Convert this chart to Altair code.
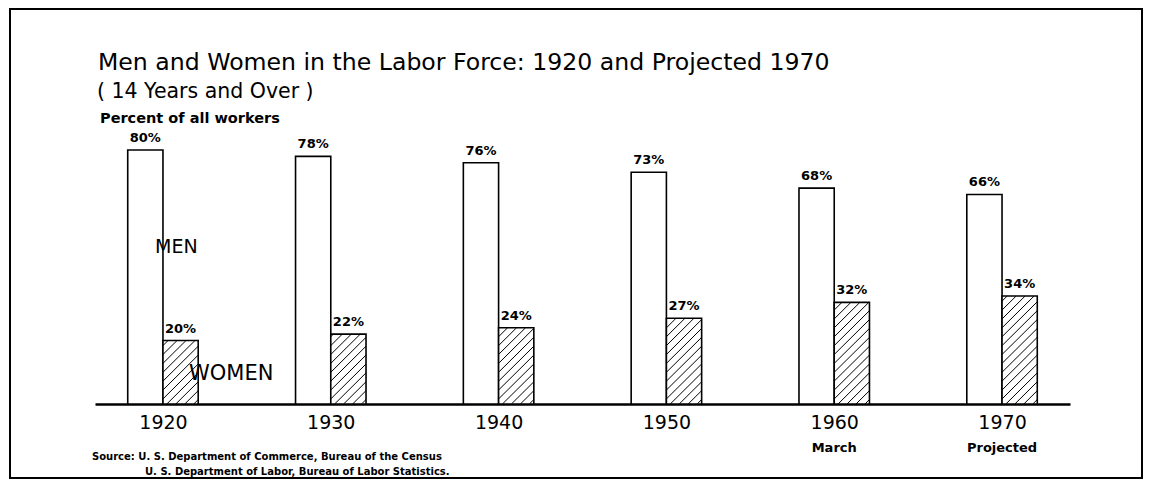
import altair as alt
import pandas as pd

# ---- data ----
years = ["1920", "1930", "1940", "1950", "1960", "1970"]
sublabels = ["", "", "", "", "March", "Projected"]
men = [80, 78, 76, 73, 68, 66]
women = [20, 22, 24, 27, 32, 34]

title = "Men and Women in the Labor Force: 1920 and Projected 1970"
subtitle = "( 14 Years and Over )"
ylabel = "Percent of all workers"
source1 = "Source: U. S. Department of Commerce, Bureau of the Census"
source2 = "U. S. Department of Labor, Bureau of Labor Statistics."

FONT = "DejaVu Sans"
BW = 0.21       # bar width in group units
H = 11.0        # hatch rise across a bar (y units)
S = 2.8         # hatch spacing (y units)

rows = []
for i, y in enumerate(years):
    rows.append({"year": y, "idx": i, "sex": "Men", "value": men[i]})
    rows.append({"year": y, "idx": i, "sex": "Women", "value": women[i]})
df = pd.DataFrame(rows)

W, HT = 975, 254
xs = alt.Scale(domain=[-0.405, 5.405], nice=False, zero=False)
ys = alt.Scale(domain=[0, 80], nice=False)

base = alt.Chart(df).transform_calculate(
    x0=f"datum.sex == 'Men' ? datum.idx - {BW} : datum.idx",
).transform_calculate(
    x1=f"datum.x0 + {BW}", xc=f"datum.x0 + {BW}/2",
    label="datum.value + '%'",
)

label_expr = "[" + ",".join(f"'{y}'" for y in years) + "][datum.value]"

bars = base.mark_rect(fill="white", stroke="black", strokeWidth=1.6).encode(
    x=alt.X("x0:Q", scale=xs, axis=alt.Axis(
        values=list(range(len(years))), labelExpr=label_expr, ticks=False,
        grid=False, domainColor="black", domainWidth=2.5, labelFont=FONT,
        labelFontSize=19, labelColor="black", labelPadding=9,
        labelFlush=False, labelOverlap=False, title=None)),
    x2="x1:Q",
    y=alt.Y("value:Q", scale=ys, axis=None),
    y2=alt.datum(0),
)

hatch = base.transform_filter("datum.sex == 'Women'").transform_calculate(
    cs=f"sequence(-{H} + {S}/2, datum.value, {S})"
).transform_flatten(["cs"]).transform_calculate(
    t0=f"max(0, -datum.cs / {H})",
    t1=f"min(1, (datum.value - datum.cs) / {H})",
).transform_filter("datum.t1 > datum.t0").transform_calculate(
    hx=f"datum.x0 + datum.t0 * {BW}",
    hy=f"datum.cs + datum.t0 * {H}",
    hx2=f"datum.x0 + datum.t1 * {BW}",
    hy2=f"datum.cs + datum.t1 * {H}",
).mark_rule(color="black", strokeWidth=1).encode(
    x=alt.X("hx:Q", scale=xs), x2="hx2:Q",
    y=alt.Y("hy:Q", scale=ys), y2="hy2:Q",
)

vals = base.mark_text(font=FONT, fontSize=13, fontWeight="bold",
                      baseline="bottom", dy=-5, color="black").encode(
    x=alt.X("xc:Q", scale=xs), y=alt.Y("value:Q", scale=ys), text="label:N")

subdf = pd.DataFrame({"idx": list(range(len(years))), "sub": sublabels})
subs = alt.Chart(subdf).mark_text(font=FONT, fontSize=13, fontWeight="bold",
                                  baseline="middle", color="black").encode(
    x=alt.X("idx:Q", scale=xs), y=alt.value(298), text="sub:N")


def label(txt, x, y, size, weight="normal", baseline="alphabetic"):
    return alt.Chart(pd.DataFrame({"t": [txt]})).mark_text(
        font=FONT, fontSize=size, fontWeight=weight, align="left",
        baseline=baseline, color="black").encode(
        x=alt.value(x), y=alt.value(y), text="t:N")


texts = [
    label(title, 3, -80, 23.6),
    label(subtitle, 2, -52, 20.5),
    label(ylabel, 5, -27, 14.5, "bold"),
    label("MEN", 60, 103, 19),
    label("WOMEN", 94, 230, 21),
    label(source1, -3, 307, 10, "bold", "middle"),
    label(source2, 50, 322, 10, "bold", "middle"),
]

frame = alt.Chart(pd.DataFrame({"a": [0]})).mark_rect(
    fill=None, stroke="black", strokeWidth=2).encode(
    x=alt.value(-85), x2=alt.value(1047), y=alt.value(-141), y2=alt.value(328))

chart = alt.layer(frame, bars, hatch, vals, subs, *texts).properties(
    width=W, height=HT,
    autosize=alt.AutoSizeParams(type="none"),
    padding={"left": 87, "top": 142, "right": 74, "bottom": 75},
).configure(background="white", view=alt.ViewConfig(stroke=None))

chart.save("out.html", embed_options={"renderer": "svg", "actions": False})
